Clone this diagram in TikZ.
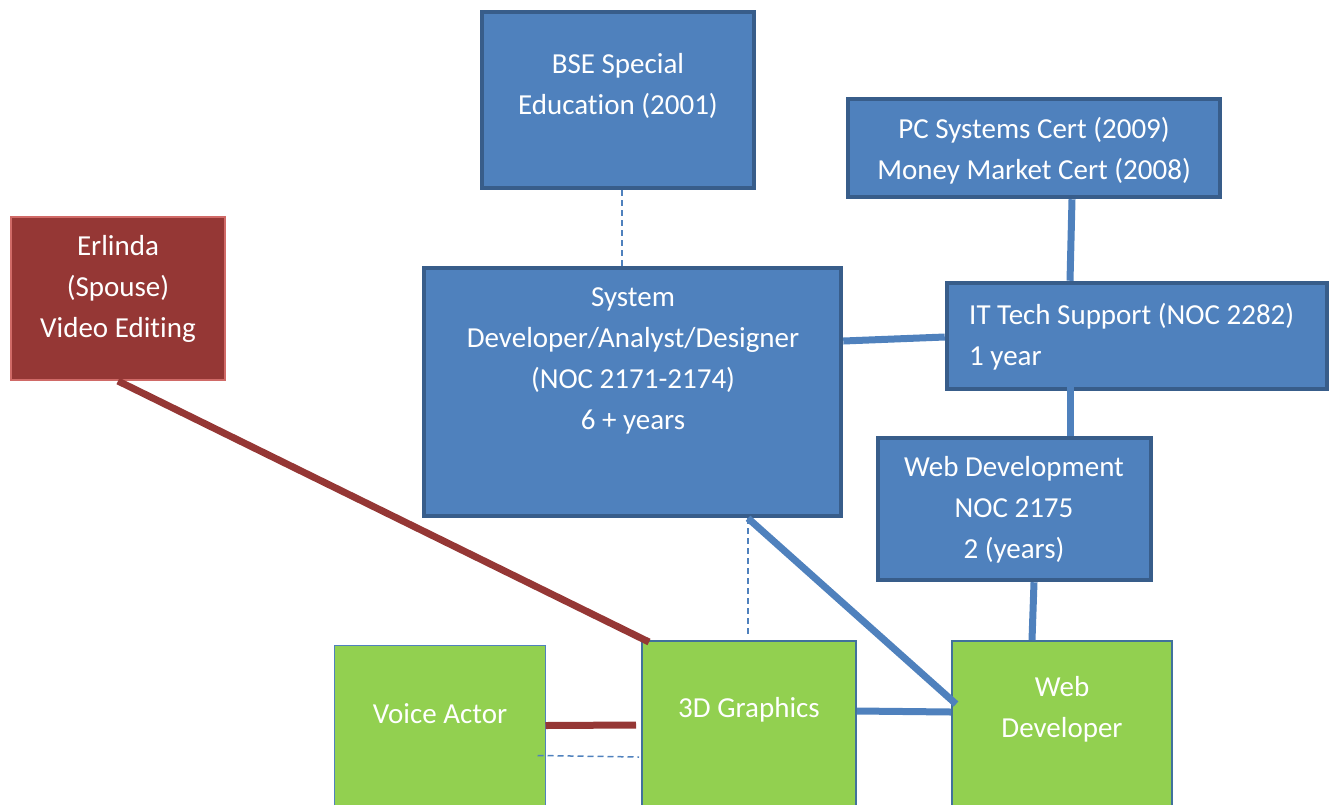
\documentclass[tikz,border=0pt]{standalone}
\usepackage{fontspec}
\setmainfont{Carlito}[RawFeature={-liga;-clig;-calt}]
\definecolor{bfill}{HTML}{4F81BD}
\definecolor{bdraw}{HTML}{385D8A}
\definecolor{rfill}{HTML}{953735}
\definecolor{rdraw}{HTML}{D06A67}
\definecolor{gfill}{HTML}{92D050}
\definecolor{gdraw}{HTML}{4F81BD}
\definecolor{gdraw2}{HTML}{41719C}
\begin{document}
\begin{tikzpicture}[x=1pt,y=-1pt,
  bluebox/.style={draw=bdraw,fill=bfill,line width=4.5pt,rectangle,inner sep=0pt},
  redbox/.style={draw=rdraw,fill=rfill,line width=2pt,rectangle,inner sep=0pt},
  greenbox/.style={draw=gdraw,fill=gfill,line width=1pt,rectangle,inner sep=0pt},
  greenbox2/.style={draw=gdraw2,fill=gfill,line width=2pt,rectangle,inner sep=0pt},
  txt/.style={text=white,font=\fontsize{29}{41}\selectfont,inner sep=0pt,align=center},
  bline/.style={draw=bfill,line width=7pt},
  rline/.style={draw=rfill,line width=7pt},
  dline/.style={draw=bfill,line width=1.5pt,dash pattern=on 6pt off 4pt}]
\useasboundingbox (0,0) rectangle (1335,804);
\clip (0,0) rectangle (1335,804);
% boxes
\node[bluebox,minimum width=272pt,minimum height=176pt] (bse) at (618,100) {};
\node[bluebox,minimum width=372pt,minimum height=98pt] (pc) at (1034,148) {};
\node[bluebox,minimum width=417pt,minimum height=248pt] (sys) at (632.5,392) {};
\node[bluebox,minimum width=380pt,minimum height=106pt] (it) at (1137,336) {};
\node[bluebox,minimum width=273pt,minimum height=142pt] (wd) at (1014.5,509) {};
\node[redbox,minimum width=214pt,minimum height=163pt] (er) at (118,298.5) {};
\node[greenbox,minimum width=211pt,minimum height=220pt] (va) at (439.5,755) {};
\node[greenbox2,minimum width=214pt,minimum height=220pt] (g3) at (749,751) {};
\node[greenbox2,minimum width=220pt,minimum height=220pt] (wdr) at (1062,751) {};
% texts
\node[txt] (bseT) at (618,86) {BSE Special\\Education (2001)};
\node[txt] (pcT) at (1034,151) {PC Systems Cert (2009)\\Money Market Cert (2008)};
\node[txt] (sysT) at (633,361) {System\\Developer/Analyst/Designer\\(NOC 2171-2174)\\6 + years};
\node[txt,align=left,anchor=west] (itT) at (969,337) {IT Tech Support (NOC 2282)\\1 year};
\node[txt] (wdT) at (1014,510) {Web Development\\NOC 2175\\2 (years)};
\node[txt] (erT) at (118,289) {Erlinda\\(Spouse)\\Video Editing};
\node[txt] (vaT) at (440,714) {Voice Actor};
\node[txt] (g3T) at (749,710) {3D Graphics};
\node[txt] (wdrT) at (1062,709) {Web\\Developer};
% connectors
\draw[dline] ([xshift=4pt]bse.south) -- ([xshift=-10.5pt]sys.north);
\draw[bline] ([xshift=38pt]pc.south) -- ([xshift=-67pt]it.north);
\draw[bline] ([yshift=51pt]sys.east) -- ([yshift=-1pt]it.west);
\draw[bline] ([xshift=-67pt,yshift=-14pt]it.center) -- ([xshift=55.5pt]wd.north);
\draw[bline] ([xshift=19.5pt]wd.south) -- ([xshift=-30pt]wdr.north);
\draw[bline] ([xshift=115.5pt]sys.south) -- ([xshift=5pt,yshift=-64pt]wdr.north west);
\draw[bline] ([yshift=-71pt]g3.north east) -- ([yshift=-72pt]wdr.north west);
\draw[dline] ([xshift=115.5pt]sys.south) -- ([xshift=-1pt,yshift=5pt]g3.north);
\draw[rline] (er.south) -- ([xshift=8pt,yshift=-2pt]g3.north west);
\draw[rline] ([yshift=-81pt]va.north east) -- ([xshift=-5pt,yshift=-85pt]g3.north west);
\draw[dline] ([xshift=-8pt,yshift=-111pt]va.north east) -- ([xshift=-2pt,yshift=-117pt]g3.north west);
\end{tikzpicture}
\end{document}
